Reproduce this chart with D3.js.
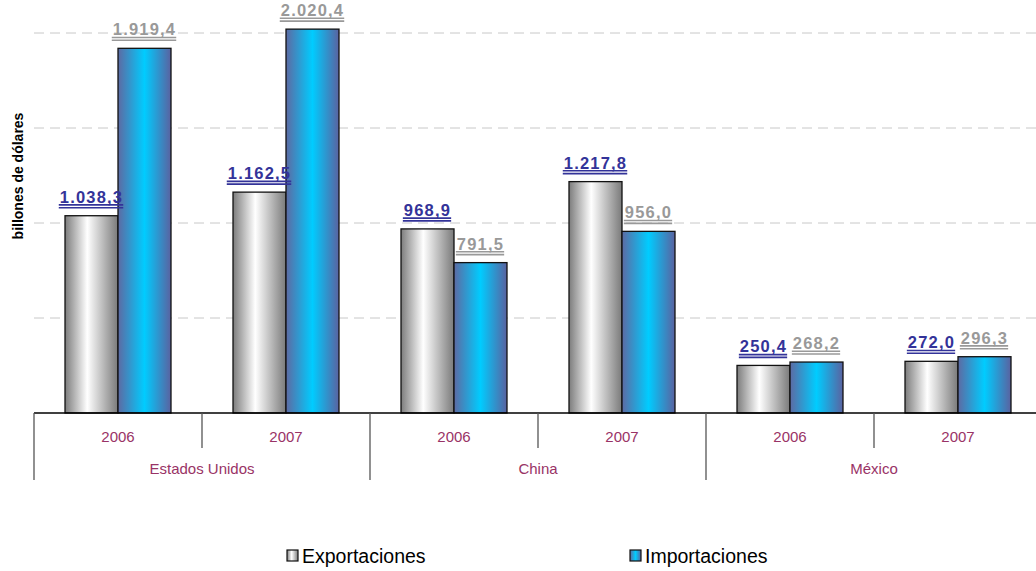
<!DOCTYPE html>
<html><head><meta charset="utf-8">
<script src="https://cdn.jsdelivr.net/npm/d3@7"></script>
<style>body{margin:0;background:#fff}svg{display:block;font-family:Arial,"Liberation Sans",sans-serif}</style>
</head><body><svg id="c" width="1036" height="571"></svg>
<script>
const countries = ["Estados Unidos","Estados Unidos","China","China","México","México"];
const years = ["2006","2007","2006","2007","2006","2007"];
const seriesNames = ["Exportaciones","Importaciones"];
const exportaciones = [1038.3, 1162.5, 968.9, 1217.8, 250.4, 272.0];
const importaciones = [1919.4, 2020.4, 791.5, 956.0, 268.2, 296.3];
const yTicks = [500, 1000, 1500, 2000];
const yTitle = "billones de dólares";

const svg = d3.select("#c");
const defs = svg.append("defs");
const g1 = defs.append("linearGradient").attr("id","gExp").attr("x1","0").attr("x2","1").attr("y1","0").attr("y2","0");
[["0%","#7c7c7c"],["42%","#ffffff"],["100%","#7a7a7a"]].forEach(s=>g1.append("stop").attr("offset",s[0]).attr("stop-color",s[1]));
const g2 = defs.append("linearGradient").attr("id","gImp").attr("x1","0").attr("x2","1").attr("y1","0").attr("y2","0");
[["0%","#5d6aa3"],["50%","#00ccff"],["100%","#5a62a0"]].forEach(s=>g2.append("stop").attr("offset",s[0]).attr("stop-color",s[1]));

const idx = d3.range(countries.length);
const x0 = d3.scaleBand().domain(idx).range([34, 1042]).paddingInner(0).paddingOuter(0);
const x1 = d3.scaleBand().domain(seriesNames).range([0, x0.bandwidth()]).paddingInner(0).paddingOuter(0.585);
const y = d3.scaleLinear().domain([0, 2000]).range([413, 33]);

// gridlines
svg.append("g").selectAll("line").data(yTicks).join("line")
  .attr("x1", 34).attr("x2", 1036)
  .attr("y1", d=>y(d)).attr("y2", d=>y(d))
  .attr("stroke", "#c8c8c8").attr("stroke-width", 1).attr("stroke-dasharray", "10,6");

const fmt = d3.formatLocale({decimal:",", thousands:".", grouping:[3], currency:["",""]}).format(",.1f");

const data = seriesNames.map((s,si)=>({name:s, values:(si===0?exportaciones:importaciones)}));
const fills = ["url(#gExp)","url(#gImp)"];
const labelColors = ["#333399","#999999"];

data.forEach((s,si)=>{
  const gg = svg.append("g");
  gg.selectAll("rect").data(s.values).join("rect")
    .attr("x",(d,i)=>x0(i)+x1(s.name))
    .attr("y",d=>y(d))
    .attr("width",x1.bandwidth())
    .attr("height",d=>y(0)-y(d))
    .attr("fill",fills[si]).attr("stroke","#111").attr("stroke-width",1.3);
});

// axis
const ax = svg.append("g");
ax.append("line").attr("x1",34).attr("x2",1036).attr("y1",y(0)).attr("y2",y(0)).attr("stroke","#000").attr("stroke-width",1.3);
idx.forEach(i=>{
  const xx = x0(i);
  const isCountryStart = i===0 || countries[i]!==countries[i-1];
  ax.append("line").attr("x1",xx).attr("x2",xx).attr("y1",y(0)).attr("y2",isCountryStart?480:448)
    .attr("stroke","#555").attr("stroke-width",1.3);
  ax.append("text").attr("x",xx+x0.bandwidth()/2).attr("y",442).attr("text-anchor","middle")
    .attr("font-size",15).attr("fill","#993366").text(years[i]);
});
const groups = d3.groups(idx, i=>countries[i]);
groups.forEach(([c, ids])=>{
  const xs = x0(ids[0]), xe = x0(ids[ids.length-1]) + x0.bandwidth();
  ax.append("text").attr("x",(xs+xe)/2).attr("y",474).attr("text-anchor","middle")
    .attr("font-size",15).attr("fill","#993366").text(c);
});

// value labels
data.forEach((s,si)=>{
  s.values.forEach((v,i)=>{
    const cx = x0(i)+x1(s.name)+x1.bandwidth()/2;
    const by = y(v)-13;
    const t = svg.append("text").attr("x",cx).attr("y",by).attr("text-anchor","middle")
      .attr("font-size",16.5).attr("font-weight","bold").attr("letter-spacing",1.2)
      .attr("fill",labelColors[si]).text(fmt(v));
    const w = t.node().getComputedTextLength();
    [2.2,5].forEach(dy=>svg.append("line").attr("x1",cx-w/2-1).attr("x2",cx+w/2).attr("y1",by+dy).attr("y2",by+dy)
      .attr("stroke",labelColors[si]).attr("stroke-width",1.6));
  });
});

// y title
svg.append("text").attr("transform","translate(23,176) rotate(-90)").attr("text-anchor","middle")
  .attr("font-size",14).attr("font-weight","bold").attr("fill","#000").text(yTitle);

// legend
const legX = [287, 630];
seriesNames.forEach((s,si)=>{
  svg.append("rect").attr("x",legX[si]).attr("y",550).attr("width",11).attr("height",11)
    .attr("fill",fills[si]).attr("stroke","#111").attr("stroke-width",1.2);
  svg.append("text").attr("x",legX[si]+15).attr("y",563).attr("font-size",19.5).attr("fill","#000").text(s);
});
</script></body></html>
